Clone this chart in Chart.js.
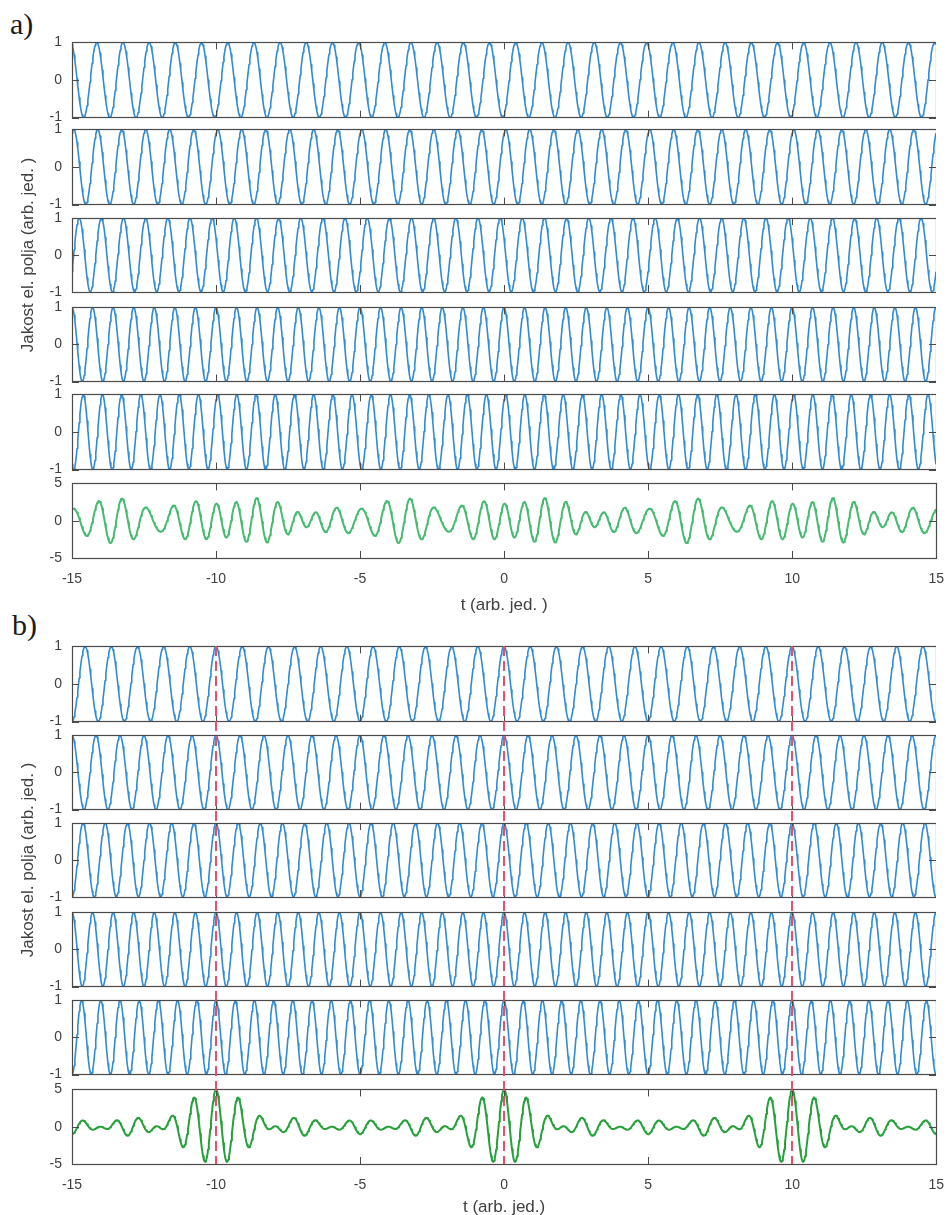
<!DOCTYPE html>
<html><head><meta charset="utf-8">
<script src="https://cdn.jsdelivr.net/npm/chart.js@4.4.0/dist/chart.umd.min.js"></script>
<style>
html,body{margin:0;padding:0;background:#fff;}
#wrap{position:relative;width:949px;height:1215px;overflow:hidden;background:#fff;}
.layer{position:absolute;left:0;pointer-events:none;}
.panel-label{position:absolute;font-family:'Liberation Serif','Times New Roman',serif;font-size:30px;line-height:30px;color:#1a1a1a;}
</style></head><body>
<div id="wrap">
<div class="panel-label" style="left:10px;top:9px">a)</div>
<div class="panel-label" style="left:12px;top:610px">b)</div>
</div>
<script>
// ---------------- data ----------------
const tRange = [-15, 15];
const xTickValues = [-15, -10, -5, 0, 5, 10, 15];
const waveFrequencies = [1.1, 1.2, 1.3, 1.4, 1.5];        // cycles per time unit, wave 1..5
const peakTimesA = [-14.14, -14.94, -14.75, -15.0, -14.61]; // a) a crest of each wave (random phases)
const peakTimesB = [0, 0, 0, 0, 0];                         // b) all waves crest together at t = 0
const lockTimes = [-10, 0, 10];                             // b) dashed markers
const waveYTicks = [-1, 0, 1];
const sumYTicks = [-5, 0, 5];
const sampleStep = 0.025;
const xTitleA = 't (arb. jed. )';
const xTitleB = 't (arb. jed.)';
const yTitle = 'Jakost el. polja (arb. jed. )';

// ---------------- styles / layout ----------------
const W = 949, LEFT = 72, RIGHT = 936;
const boxesA = [[42,117],[129,204],[218,292],[307,381],[394,469],[483,558]];
const boxesB = [[646,721],[735,809],[823,897],[912,986],[1000,1074],[1089,1164]];
const BLUE = '#2f8bd2', GREEN_A = '#44bb6e', GREEN_B = '#25a03a', RED = '#e5506f';
const TEXT = '#404040', AXIS = '#4a4a4a';
const FONT = "'Liberation Sans', Arial, Helvetica, sans-serif";

const times = [];
for (let i = 0; ; i++) { const t = tRange[0] + i * sampleStep; if (t > tRange[1] + 1e-9) break; times.push(+t.toFixed(4)); }
function wave(f, t0) { return times.map(t => ({x: t, y: Math.cos(2 * Math.PI * f * (t - t0))})); }
function sumOf(ws) { return times.map((t, i) => ({x: t, y: ws.reduce((s, w) => s + w[i].y, 0)})); }

const boxPlugin = {
  id: 'boxTicks',
  afterDatasetsDraw(chart) {
    const {ctx, chartArea: a, scales: {x, y}} = chart;
    ctx.save();
    ctx.strokeStyle = AXIS; ctx.lineWidth = 1;
    ctx.beginPath();
    const L = 7;
    x.ticks.forEach(tk => {
      const px = Math.round(x.getPixelForValue(tk.value)) + 0.5;
      ctx.moveTo(px, a.top); ctx.lineTo(px, a.top + L);
      ctx.moveTo(px, a.bottom); ctx.lineTo(px, a.bottom - L);
    });
    y.ticks.forEach(tk => {
      const py = Math.round(y.getPixelForValue(tk.value)) + 0.5;
      ctx.moveTo(a.left, py); ctx.lineTo(a.left + L, py);
      ctx.moveTo(a.right, py); ctx.lineTo(a.right - L, py);
    });
    ctx.stroke();
    ctx.lineWidth = 1.2;
    ctx.strokeRect(Math.round(a.left) + 0.5, Math.round(a.top) + 0.5, Math.round(a.right - a.left), Math.round(a.bottom - a.top));
    ctx.restore();
  }
};

const wrap = document.getElementById('wrap');
function sizeCanvas(c, left, top, w, h) {
  c.style.left = left + 'px'; c.style.top = top + 'px';
  c.width = w; c.height = h;
  c.style.width = w + 'px'; c.style.height = h + 'px';
}
function makeCanvas(top, height) {
  const c = document.createElement('canvas');
  c.className = 'layer';
  sizeCanvas(c, 0, top, W, height);
  wrap.appendChild(c);
  return c;
}

// Build the chart, then move / resize its canvas until the plot area sits exactly on the wanted page box
function placeFitted(canvas, cfgFn, box) {
  let ch = new Chart(canvas, cfgFn());
  for (let k = 0; k < 4; k++) {
    const a = ch.chartArea;
    const cl = parseFloat(canvas.style.left), ct = parseFloat(canvas.style.top);
    const ok = Math.abs(ct + a.top - box.top) < 0.6 && Math.abs(ct + a.bottom - box.bottom) < 0.6 &&
               Math.abs(cl + a.left - box.left) < 0.6 && Math.abs(cl + a.right - box.right) < 0.6;
    if (ok) break;
    const nl = Math.round(box.left - a.left), nt = Math.round(box.top - a.top);
    const nw = Math.round(canvas.width + (box.right - box.left) - (a.right - a.left));
    const nh = Math.round(canvas.height + (box.bottom - box.top) - (a.bottom - a.top));
    ch.destroy();
    sizeCanvas(canvas, nl, nt, nw, nh);
    ch = new Chart(canvas, cfgFn());
  }
  return ch;
}

function subplot(box, data, color, lw, yTicks, opts) {
  const [top, bottom] = box;
  const padTop = opts.yTitle ? 130 : 0;
  const padBot = opts.isBottom ? 0 : (opts.yTitle ? 130 : 0);
  const xH = 60;
  const h = (bottom - top) + padTop + (opts.isBottom ? xH : padBot) + 40;
  const c = makeCanvas(top - padTop - 20, h);
  const cfgFn = () => ({
    type: 'line',
    data: {datasets: [{data, borderColor: color, borderWidth: lw, pointRadius: 0, tension: 0, fill: false, borderJoinStyle: 'round'}]},
    options: {
      responsive: false, animation: false, devicePixelRatio: 1, events: [], parsing: false,
      layout: {padding: {left: 0, right: 0, top: padTop, bottom: padBot}},
      plugins: {legend: {display: false}, tooltip: {enabled: false}},
      scales: {
        x: {
          type: 'linear', min: tRange[0], max: tRange[1], display: !!opts.isBottom,
          afterBuildTicks: s => { s.ticks = xTickValues.map(v => ({value: v})); },
          grid: {display: false, drawTicks: false}, border: {display: false},
          ticks: {padding: 13, color: TEXT, font: {family: FONT, size: 14}, maxRotation: 0, autoSkip: false},
          title: {display: !!opts.isBottom, text: opts.xTitle || '', color: TEXT, font: {family: FONT, size: 17}, padding: {top: 0, bottom: opts.xTitlePad || 0}},
          afterFit: opts.isBottom ? (s => { s.height = xH; }) : undefined
        },
        y: {
          type: 'linear', min: yTicks[0], max: yTicks[yTicks.length - 1],
          afterBuildTicks: s => { s.ticks = yTicks.map(v => ({value: v})); },
          grid: {display: false, drawTicks: false}, border: {display: false},
          ticks: {padding: 10, color: TEXT, font: {family: FONT, size: 14}},
          title: {display: !!opts.yTitle, text: yTitle, color: TEXT, font: {family: FONT, size: 17}, padding: {top: 18, bottom: 0}},
          afterFit: s => { s.width = LEFT; }
        }
      }
    },
    plugins: [boxPlugin]
  });
  placeFitted(c, cfgFn, {top, bottom, left: LEFT, right: RIGHT});
}

function panel(boxes, peakTimes, green, xTitle, xTitlePad) {
  const ws = waveFrequencies.map((f, k) => wave(f, peakTimes[k]));
  ws.forEach((w, k) => subplot(boxes[k], w, BLUE, 1.6, waveYTicks, {yTitle: k === 2}));
  subplot(boxes[5], sumOf(ws), green, 2, sumYTicks, {isBottom: true, xTitle, xTitlePad});
}

panel(boxesA, peakTimesA, GREEN_A, xTitleA, 2);
panel(boxesB, peakTimesB, GREEN_B, xTitleB, 6);

// dashed markers across all b) subplots
(function () {
  const top = boxesB[0][0], bottom = boxesB[5][1], pad = 4;
  const c = makeCanvas(top - pad, bottom - top + 2 * pad);
  const cfgFn = () => ({
    type: 'line',
    data: {datasets: lockTimes.map(t => ({data: [{x: t, y: 0}, {x: t, y: 1}], borderColor: RED, borderWidth: 2, borderDash: [10, 5], pointRadius: 0, fill: false}))},
    options: {
      responsive: false, animation: false, devicePixelRatio: 1, events: [], parsing: false,
      layout: {padding: {left: LEFT, right: W - RIGHT, top: pad, bottom: pad}},
      plugins: {legend: {display: false}, tooltip: {enabled: false}},
      scales: {
        x: {type: 'linear', min: tRange[0], max: tRange[1], display: false},
        y: {type: 'linear', min: 0, max: 1, display: false, reverse: true}
      }
    }
  });
  placeFitted(c, cfgFn, {top, bottom, left: LEFT, right: RIGHT});
})();
</script>
</body></html>
